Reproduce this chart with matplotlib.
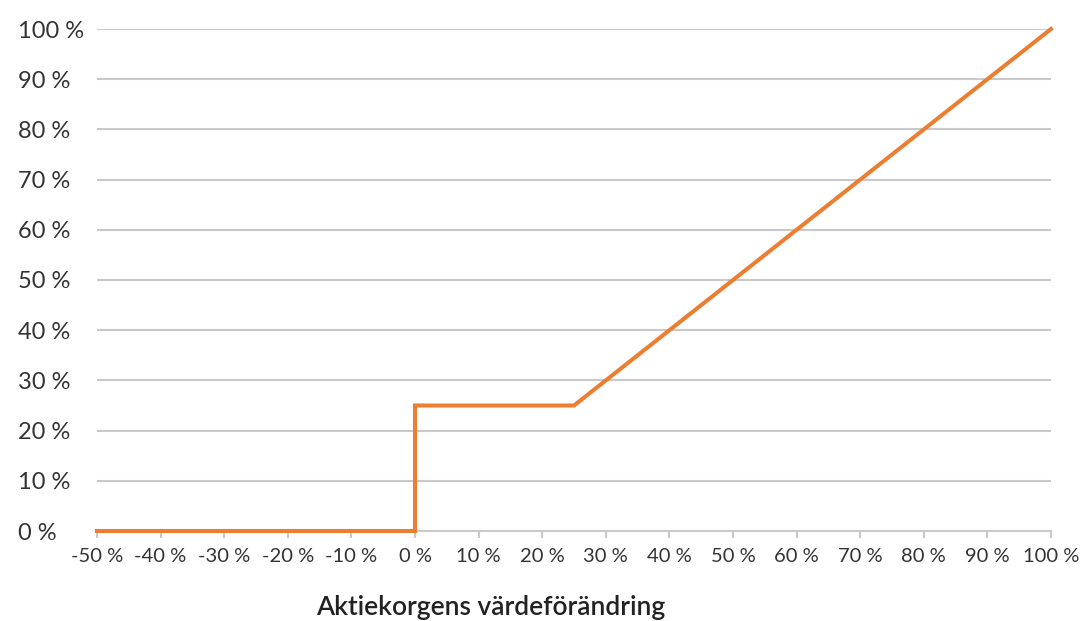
import numpy as np
import matplotlib.pyplot as plt

# Payoff profile: basket change (x) vs. return (y), in percent
basket_change = [-50, -40, -30, -20, -10, 0, 0, 10, 20, 25, 30, 35, 40, 50, 55, 60, 70, 75, 80, 90, 95, 100]
payoff = [0, 0, 0, 0, 0, 0, 25, 25, 25, 25, 30, 35, 40, 50, 55, 60, 70, 75, 80, 90, 95, 100]

x_ticks = np.arange(-50, 101, 10)
y_ticks = np.arange(0, 101, 10)

plt.rcParams['font.family'] = ['Lato', 'DejaVu Sans']

fig = plt.figure(figsize=(10.84, 6.21), dpi=100)
ax = fig.add_axes([97 / 1084, 1 - 531 / 621, (1051 - 97) / 1084, (531 - 29) / 621])

grid_color = '#c9c9c9'
for yv in y_ticks[1:]:
    ax.axhline(yv, color=grid_color, lw=1.5, zorder=1)

ax.plot(basket_change, payoff, color='#ED7D31', lw=2.9, zorder=3,
        solid_joinstyle='miter', clip_on=False)

ax.set_xlim(-50, 100)
ax.set_ylim(0, 100)

for side in ['top', 'right', 'left']:
    ax.spines[side].set_visible(False)
ax.spines['bottom'].set_color(grid_color)
ax.spines['bottom'].set_linewidth(1.5)

ax.set_xticks(x_ticks)
ax.set_xticklabels([f'{v} %' for v in x_ticks])
ax.set_yticks(y_ticks)
ax.set_yticklabels([f'{v} %' for v in y_ticks])

ax.tick_params(axis='x', length=5, width=1.5, color=grid_color, labelsize=14.5,
               labelcolor='#333333', pad=7)
ax.tick_params(axis='y', length=0, labelsize=17, labelcolor='#333333', pad=57)
for lbl in ax.get_yticklabels():
    lbl.set_horizontalalignment('left')

fig.text(491 / 1084, 1 - 607 / 621, 'Aktiekorgens värdeförändring', ha='center', va='center',
         fontsize=19, color='#222222', fontweight='semibold')

fig.savefig('out.png', dpi=100)
